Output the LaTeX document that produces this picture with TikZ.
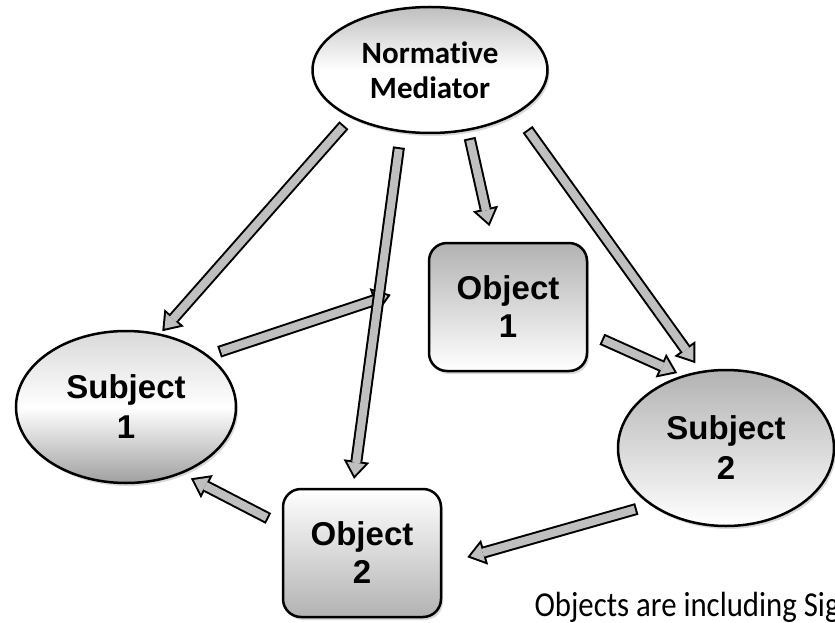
\documentclass[tikz,border=0pt]{standalone}
\usepackage{fontspec}
\setmainfont[Ligatures=NoCommon]{Carlito}
\newfontfamily\boxfont{Liberation Sans}
\newfontfamily\notefont[FakeStretch=0.88,Ligatures=NoCommon]{Carlito}
\usepackage{tikz}
\usetikzlibrary{arrows.meta,shapes.geometric,shadows}
\tikzset{
    %Define style for the mediator
    mediator/.style={
           ellipse,
           draw=black, line width=2.5pt,
           minimum width=235pt,
           minimum height=126pt,
           align=center,
           font=\bfseries\fontsize{31}{35}\selectfont,
           drop shadow={opacity=.3,shadow xshift=2pt,shadow yshift=-3pt}
           },
    %Define style for subjects
    subject/.style={
           ellipse,
           draw=black, line width=2.5pt,
           align=center,
           font=\boxfont\bfseries\fontsize{33}{40}\selectfont,
           drop shadow={opacity=.3,shadow xshift=2pt,shadow yshift=-3pt}
           },
    %Define style for objects
    object/.style={
           rectangle,
           rounded corners=18pt,
           draw=black, line width=2.5pt,
           minimum width=158pt,
           minimum height=128pt,
           align=center,
           font=\boxfont\bfseries\fontsize{33}{38}\selectfont,
           drop shadow={opacity=.3,shadow xshift=2pt,shadow yshift=-3pt}
           },
    % Define arrow styles
    rim/.style={
           line width=12pt, draw=black,
           -{Triangle[length=18pt,width=26pt,line width=0pt]}},
    core/.style={
           line width=8pt, draw=gray!50,
           -{Triangle[length=12.6pt,width=18.2pt,line width=0pt]}}
}

\begin{document}
\begin{tikzpicture}[x=1pt,y=-1pt]
\useasboundingbox (0,0) rectangle (835,623);
 %nodes
\node[mediator, top color=gray!50, bottom color=white, middle color=white] (med) at (430,70) {Normative\\Mediator};
\node[subject, minimum width=220pt, minimum height=152pt, top color=gray!30, bottom color=gray!75, middle color=white] (sub1) at (126,407) {Subject\\1};
\node[subject, minimum width=216pt, minimum height=156pt, top color=gray!60, bottom color=white] (sub2) at (726,448) {Subject\\2};
\node[object, top color=gray!60, bottom color=white] (obj1) at (508,307) {Object\\1};
\node[object, top color=white, bottom color=gray!60] (obj2) at (362,553) {Object\\2};
\node[anchor=base west, font=\notefont\fontsize{35}{40}\selectfont] (note) at (531,616) {Objects are including Sig};
 %arrows
\foreach \from/\to/\gs/\ge in {sub1.32/obj1.163/11pt/39pt, med.211/sub1.65/10pt/3pt,
    med.245/obj2.98/15pt/9pt, med.302/obj1.103/7.5pt/16pt, obj1.-18/sub2.121/15pt/5.6pt,
    med.333/sub2.108/19pt/9.5pt, obj2.161/sub1.-50/15pt/10pt, sub2.217/obj2.-8/14pt/26pt}
  {\draw[rim, shorten <=\gs, shorten >=\ge] (\from) -- (\to);
   \draw[core, shorten <=\gs+2pt, shorten >=\ge+3.4pt] (\from) -- (\to);}
\end{tikzpicture}
\end{document}
